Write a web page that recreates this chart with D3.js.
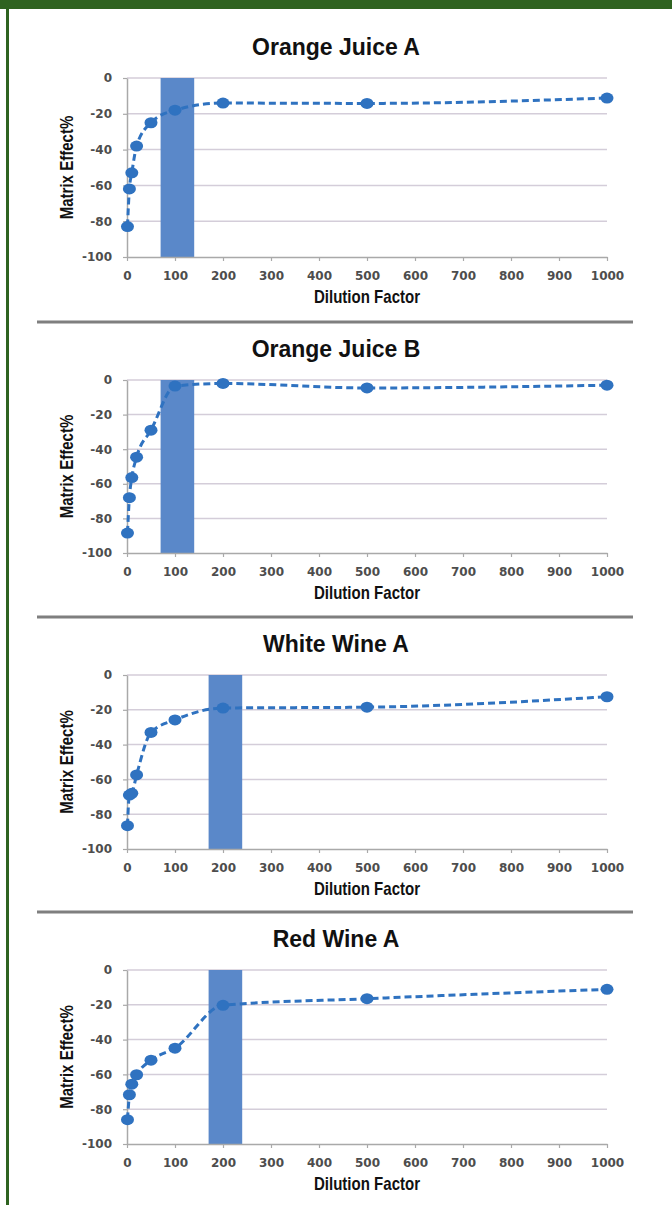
<!DOCTYPE html>
<html>
<head>
<meta charset="utf-8">
<script src="https://d3js.org/d3.v7.min.js"></script>
<style>
  body { margin: 0; background: #fff; }
  svg { display: block; }
</style>
</head>
<body>
<script>
// values
const titles = ["Orange Juice A", "Orange Juice B", "White Wine A", "Red Wine A"];
const dilution = [1, 5, 10, 20, 50, 100, 200, 500, 1000];
const ojA = [-83, -62, -53, -38, -25, -18, -14, -14.2, -11.2];
const ojB = [-88.5, -68, -56.4, -44.6, -29, -3.5, -2, -4.6, -3];
const wwA = [-86.6, -69, -68, -57.4, -33, -25.8, -19, -18.5, -12.5];
const rwA = [-86, -71.7, -65.6, -60.2, -51.8, -44.9, -20.3, -16.5, -11.1];
const bands = [[70, 140], [70, 140], [170, 240], [170, 240]];
const xTicks = [0, 100, 200, 300, 400, 500, 600, 700, 800, 900, 1000];
const yTicks = [0, -20, -40, -60, -80, -100];

const series = [ojA, ojB, wwA, rwA];

let width = 672,
    height = 1205;

let svg = d3.select("body").append("svg").attr("width", width).attr("height", height);

// green frame (top bar + left rule)
svg.append("rect").attr("x", 0).attr("y", 0).attr("width", width).attr("height", 9).attr("fill", "#2f6320");
svg.append("rect").attr("x", 6).attr("y", 0).attr("width", 3).attr("height", height).attr("fill", "#2f6320");

// panel frames: plot top / bottom in px
let frames = [
  {top: 78, bottom: 257},
  {top: 380, bottom: 553},
  {top: 675, bottom: 849},
  {top: 970, bottom: 1144}
];

// grey rules between panels
[322, 617, 912].forEach(function(yy){
  svg.append("line").attr("x1", 37).attr("x2", 633).attr("y1", yy).attr("y2", yy)
    .attr("stroke", "#7f7f7f").attr("stroke-width", 3);
});

let blue = "#2f72c0";
let labelFont = "'Liberation Sans', Arial, sans-serif";
let tickFont = "'DejaVu Sans', Verdana, sans-serif";
let squeeze = 0.86; // axis titles are set in a condensed face

frames.forEach(function(f, i){
  let g = svg.append("g");

  let x = d3.scaleLinear().domain([0, 1000]).range([127, 607]);
  let y = d3.scaleLinear().domain([-100, 0]).range([f.bottom, f.top]);

  // title
  g.append("text")
    .attr("x", 336).attr("y", f.top - 23)
    .attr("text-anchor", "middle")
    .style("font-family", "'Liberation Sans', Arial, sans-serif")
    .style("font-weight", "bold").style("font-size", "23px")
    .attr("fill", "#111")
    .text(titles[i]);

  // gridlines
  g.selectAll(".grid").data(yTicks.filter(d => d > -100)).enter().append("line")
    .attr("x1", x(0)).attr("x2", x(1000))
    .attr("y1", d => y(d)).attr("y2", d => y(d))
    .attr("stroke", "#d4cdd9").attr("stroke-width", 1.5);

  // highlighted dilution band
  g.append("rect")
    .attr("x", x(bands[i][0])).attr("width", x(bands[i][1]) - x(bands[i][0]))
    .attr("y", y(0)).attr("height", y(-100) - y(0))
    .attr("fill", "#5a88c9");

  // axes
  let xAxis = g.append("g").attr("transform", "translate(0," + y(-100) + ")")
    .call(d3.axisBottom(x).tickValues(xTicks).tickFormat(d => String(d))
      .tickSize(4).tickSizeOuter(0).tickPadding(10));
  let yAxis = g.append("g").attr("transform", "translate(" + x(0) + ",0)")
    .call(d3.axisLeft(y).tickValues(yTicks).tickFormat(d => String(d))
      .tickSize(4).tickSizeOuter(0).tickPadding(11));

  [xAxis, yAxis].forEach(function(a){
    a.select(".domain").attr("stroke", "#a9a9a9").attr("stroke-width", 1.5);
    a.selectAll(".tick line").attr("stroke", "#a9a9a9").attr("stroke-width", 1.2);
    a.selectAll(".tick text")
      .style("font-family", tickFont).style("font-size", "12px").style("font-weight", "600")
      .attr("fill", "#4d4d4d");
  });

  // axis titles
  g.append("text")
    .attr("transform", "translate(" + (x(0) + x(1000)) / 2 + "," + (y(-100) + 46) + ") scale(" + squeeze + ",1)")
    .attr("text-anchor", "middle")
    .style("font-family", labelFont).style("font-weight", "bold").style("font-size", "17.5px")
    .attr("fill", "#111")
    .text("Dilution Factor");

  g.append("text")
    .attr("transform", "translate(73," + (f.top + f.bottom) / 2 + ") rotate(-90) scale(" + squeeze + ",1)")
    .attr("text-anchor", "middle")
    .style("font-family", labelFont).style("font-weight", "bold").style("font-size", "17.5px")
    .attr("fill", "#111")
    .text("Matrix Effect%");

  // smoothed dashed series
  let pts = dilution.map((d, k) => [d, series[i][k]]);

  let line = d3.line()
    .x(d => x(d[0]))
    .y(d => y(d[1]))
    .curve(d3.curveMonotoneX);

  g.append("path")
    .datum(pts)
    .attr("d", line)
    .attr("fill", "none")
    .attr("stroke", blue)
    .attr("stroke-width", 3)
    .attr("stroke-dasharray", "7,4");

  g.selectAll(".pt").data(pts).enter().append("ellipse")
    .attr("cx", d => x(d[0])).attr("cy", d => y(d[1]))
    .attr("rx", 6.5).attr("ry", 5.5)
    .attr("fill", blue);
});
</script>
</body>
</html>
